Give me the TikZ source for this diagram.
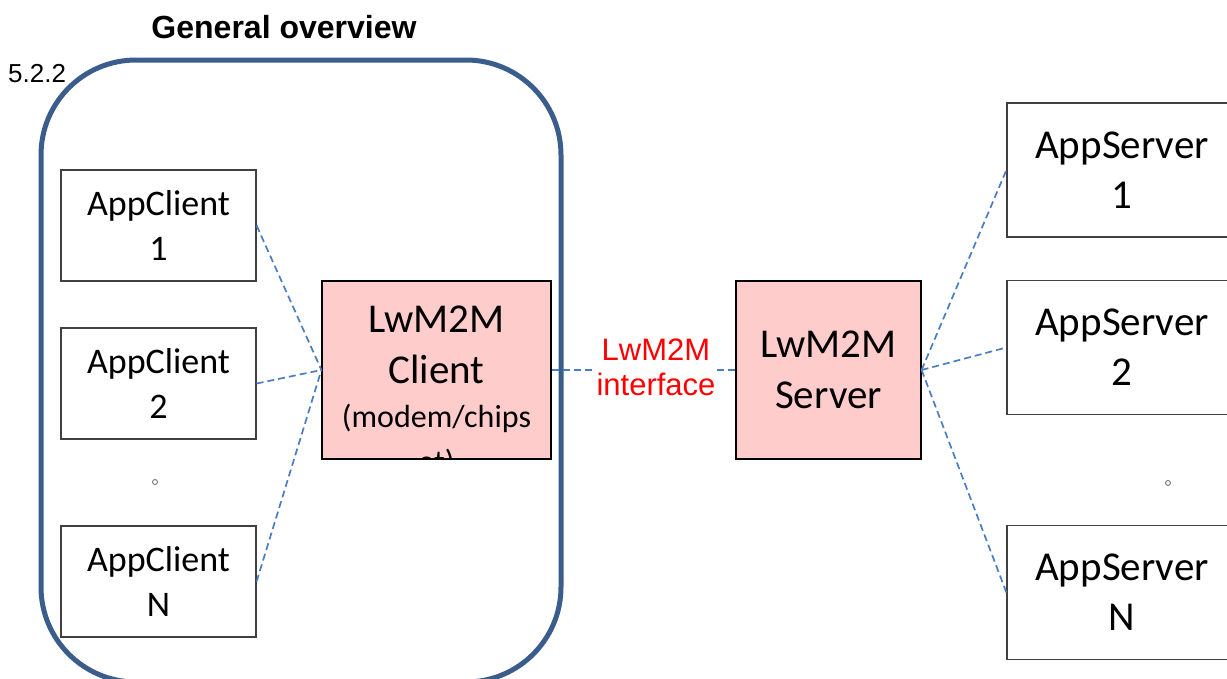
\documentclass[tikz,border=0pt]{standalone}
\usepackage{fontspec}
\setmainfont{Carlito}
\newfontfamily\arialfont{Liberation Sans}
\usepackage{tikz}
\usetikzlibrary{shapes, positioning}
\definecolor{framecol}{RGB}{59,93,140}
\definecolor{linkcol}{RGB}{74,126,193}
\definecolor{boxpink}{RGB}{255,204,204}
\newcommand{\smallline}{\fontsize{32}{36}\selectfont}
\tikzstyle{appbox} = [rectangle, draw=black!75, line width=1.2pt, inner sep=0, align=center]
\tikzstyle{lwbox} = [rectangle, draw=black, fill=boxpink, line width=1.2pt, inner sep=0, align=center]
\tikzstyle{link} = [draw=linkcol, line width=1.7pt, dash pattern=on 7pt off 4pt]
\tikzstyle{more} = [circle, draw=black!60, line width=0.8pt, inner sep=0, minimum size=5pt]

\begin{document}
\begin{tikzpicture}[x=1pt, y=-1pt]
				\clip (0, 0) rectangle (1227, 678);
				\fill[white] (0, 0) rectangle (1227, 678);

				\node (Title) [font=\arialfont\bfseries\fontsize{32}{38}\selectfont] at (284, 27) {General overview};
				\node (Section) [anchor=base west, inner sep=0, font=\arialfont\fontsize{26}{30}\selectfont] at (8, 82) {5.2.2};

				% device frame
				\draw[framecol, line width=5pt, rounded corners=95pt] (41, 60) rectangle (561, 682);

				% app clients
				\node (AppClient1) [appbox, minimum width=195pt, minimum height=111pt, font=\fontsize{36}{45}\selectfont] at (158.5, 225.5)
					{AppClient\\1};
				\node (AppClient2) [appbox, minimum width=195pt, minimum height=111pt, font=\fontsize{36}{45}\selectfont] at (158.5, 383.5)
					{AppClient\\2};
				\node (ClientDots) [more] at (155, 482) {};
				\node (AppClientN) [appbox, minimum width=195pt, minimum height=111pt, font=\fontsize{36}{45}\selectfont] at (158.5, 581.5)
					{AppClient\\N};

				% lwm2m client
				\node (Client) [lwbox, minimum width=229pt, minimum height=178pt] at (436.5, 370) {};
				\begin{scope}
					\clip (Client.south west) rectangle (Client.north east);
					\node (ClientText) [anchor=north, inner sep=0, align=center, font=\fontsize{41}{51}\selectfont] at (436.5, 306)
						{LwM2M\\Client\\[-7pt]\smallline (modem/chips\\[-6pt]\smallline et)};
				\end{scope}

				% lwm2m server
				\node (Server) [lwbox, minimum width=185pt, minimum height=178pt, font=\fontsize{41}{51}\selectfont] at (828.5, 370)
					{LwM2M\\Server};

				% app servers
				\node (AppServer1) [appbox, minimum width=230pt, minimum height=134pt, font=\fontsize{41}{50}\selectfont] at (1122, 170)
					{AppServer\\1};
				\node (AppServer2) [appbox, minimum width=230pt, minimum height=134pt, font=\fontsize{41}{50}\selectfont] at (1122, 347.5)
					{AppServer\\2};
				\node (ServerDots) [more] at (1168, 483) {};
				\node (AppServerN) [appbox, minimum width=230pt, minimum height=134pt, font=\fontsize{41}{50}\selectfont] at (1122, 592.5)
					{AppServer\\N};

				% links
				\draw[link] (AppClient1.east) -- (Client.west);
				\draw[link] (AppClient2.east) -- (Client.west);
				\draw[link] (AppClientN.east) -- (Client.west);
				\draw[link] (Client.east) -- (Server.west);
				\draw[link] (Server.east) -- (AppServer1.west);
				\draw[link] (Server.east) -- (AppServer2.west);
				\draw[link] (Server.east) -- (AppServerN.west);

				\node (Interface) [fill=white, inner sep=1pt, align=center, text=red, font=\arialfont\fontsize{31}{35}\selectfont] at (656, 367)
					{LwM2M\\interface};
			\end{tikzpicture}
\end{document}
